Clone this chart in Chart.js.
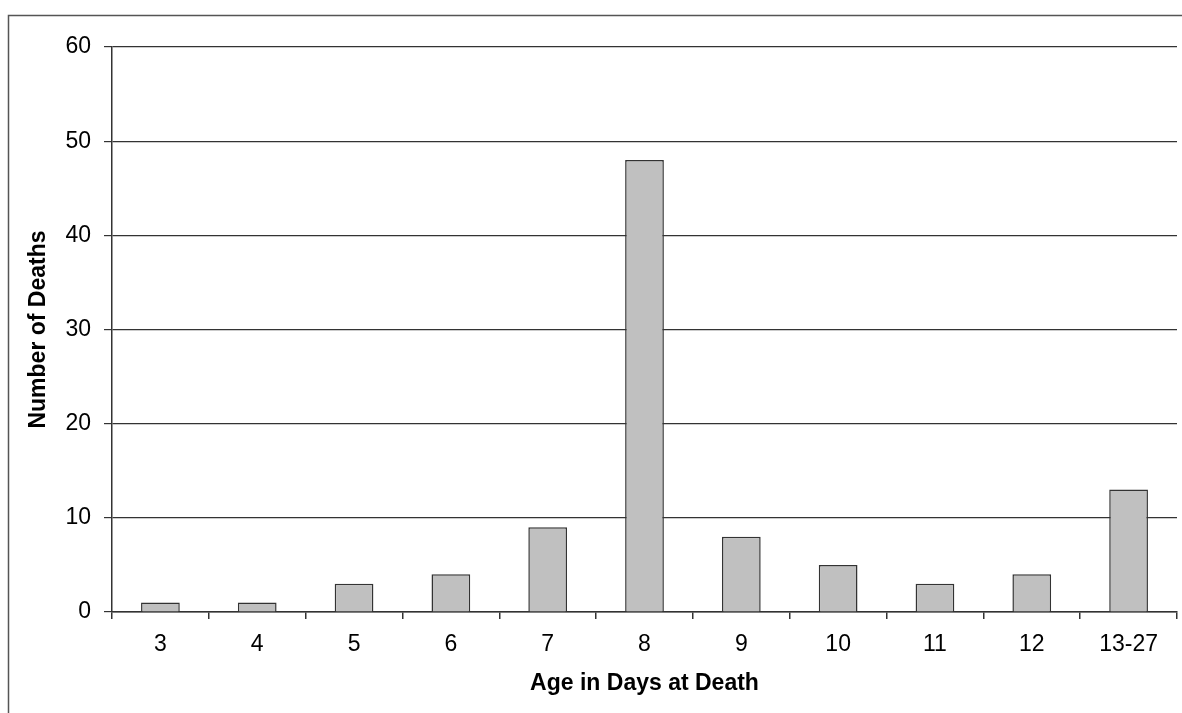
<!DOCTYPE html>
<html>
<head>
<meta charset="utf-8">
<script src="https://cdn.jsdelivr.net/npm/chart.js@4"></script>
<style>
  html, body { margin: 0; padding: 0; background: #fff; }
  #wrap { width: 1182px; height: 713px; position: relative; }
</style>
</head>
<body>
<div id="wrap"><canvas id="deathsChart"></canvas></div>
<script>
// Dữ liệu biểu đồ
const ageLabels = ['3', '4', '5', '6', '7', '8', '9', '10', '11', '12', '13-27'];
const deathCounts = [1, 1, 3, 4, 9, 48, 8, 5, 3, 4, 13];
const yTicks = [0, 10, 20, 30, 40, 50, 60];

const FONT = 'Liberation Sans, Arial, sans-serif';

// Khung viền ngoài (bị cắt ở bên phải và bên dưới)
const outerFrame = {
    id: 'outerFrame',
    beforeDraw(chart) {
        const ctx = chart.ctx;
        ctx.save();
        ctx.fillStyle = '#fff';
        ctx.fillRect(0, 0, chart.width, chart.height);
        ctx.strokeStyle = '#555';
        ctx.lineWidth = 1.5;
        ctx.beginPath();
        ctx.moveTo(8.5, chart.height + 5);
        ctx.lineTo(8.5, 15.5);
        ctx.lineTo(chart.width + 5, 15.5);
        ctx.stroke();
        ctx.restore();
    }
};

new Chart(document.getElementById('deathsChart'), {
    type: 'bar',
    data: {
        labels: ageLabels,
        datasets: [{
            data: deathCounts,
            backgroundColor: '#C0C0C0',
            borderColor: '#333',
            borderWidth: 1.5,
            categoryPercentage: 1,
            barPercentage: 0.4
        }]
    },
    options: {
        responsive: true,
        maintainAspectRatio: false,
        animation: false,
        layout: { padding: { top: 47, right: 5, left: 25, bottom: 0 } },
        plugins: {
            legend: { display: false },
            tooltip: { enabled: false }
        },
        scales: {
            x: {
                offset: true,
                afterFit: s => { s.height = 101; },
                grid: {
                    offset: true,
                    drawOnChartArea: false,
                    drawTicks: true,
                    tickLength: 7,
                    color: '#333',
                    lineWidth: 1.5
                },
                border: { display: true, color: '#333', width: 1.5 },
                ticks: {
                    color: '#000',
                    padding: 12,
                    maxRotation: 0,
                    font: { family: FONT, size: 23 }
                },
                title: {
                    display: true,
                    text: 'Age in Days at Death',
                    color: '#000',
                    padding: { top: 2, bottom: 16 },
                    font: { family: FONT, size: 23, weight: 'bold' }
                }
            },
            y: {
                min: 0,
                max: 60,
                afterFit: s => { s.width = 87; },
                afterBuildTicks: s => { s.ticks = yTicks.map(v => ({ value: v })); },
                grid: {
                    color: '#333',
                    lineWidth: 1.2,
                    tickLength: 8
                },
                border: { display: true, color: '#333', width: 1.5 },
                ticks: {
                    color: '#000',
                    padding: 13,
                    font: { family: FONT, size: 23 }
                },
                title: {
                    display: true,
                    text: 'Number of Deaths',
                    color: '#000',
                    padding: { top: 0, bottom: 0 },
                    font: { family: FONT, size: 23, weight: 'bold' }
                }
            }
        }
    },
    plugins: [outerFrame]
});
</script>
</body>
</html>
